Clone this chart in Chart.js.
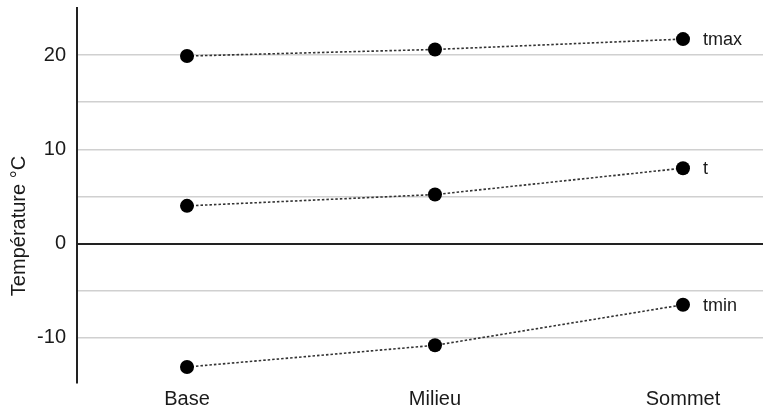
<!DOCTYPE html>
<html>
<head>
<meta charset="utf-8">
<script src="https://cdn.jsdelivr.net/npm/chart.js@4/dist/chart.umd.min.js"></script>
<style>
  html, body { margin: 0; padding: 0; background: #fff; }
  #wrap { width: 763px; height: 412px; }
</style>
</head>
<body>
<div id="wrap"><canvas id="c" width="763" height="412"></canvas></div>
<script>
// Station positions along the slope
const categories = ['Base', 'Milieu', 'Sommet'];

// Temperatures (°C) at each station
const tmax = [19.9, 20.6, 21.7];
const t    = [4.0, 5.2, 8.0];
const tmin = [-13.1, -10.8, -6.5];

const seriesNames = ['tmax', 't', 'tmin'];
const yTickLabels = [-10, 0, 10, 20];
const yAxisTitle = 'Température °C';

const FONT = '"Liberation Sans", Arial, Helvetica, sans-serif';
const TEXT = '#1a1a1a';

function toPoints(values) {
  return values.map((v, i) => ({ x: i + 1, y: v }));
}

function makeSeries(name, values) {
  return {
    label: name,
    data: toPoints(values),
    borderColor: '#333',
    borderWidth: 1.6,
    borderDash: [2.5, 2],
    pointRadius: 7,
    pointHoverRadius: 7,
    pointBackgroundColor: '#000',
    pointBorderColor: '#000',
    pointBorderWidth: 0,
    fill: false,
    tension: 0
  };
}

// Writes each series name to the right of its last point, and the y-axis title
const sideLabels = {
  id: 'sideLabels',
  afterDatasetsDraw(chart) {
    const ctx = chart.ctx;
    ctx.save();
    ctx.font = '18px ' + FONT;
    ctx.fillStyle = TEXT;
    ctx.textAlign = 'left';
    ctx.textBaseline = 'middle';
    chart.data.datasets.forEach((ds, i) => {
      const meta = chart.getDatasetMeta(i);
      const last = meta.data[meta.data.length - 1];
      ctx.fillText(ds.label, last.x + 20, last.y + 1);
    });
    ctx.font = '20px ' + FONT;
    ctx.translate(19, 226);
    ctx.rotate(-Math.PI / 2);
    ctx.textAlign = 'center';
    ctx.fillText(yAxisTitle, 0, 0);
    ctx.restore();
  }
};

new Chart(document.getElementById('c'), {
  type: 'line',
  data: {
    datasets: [
      makeSeries(seriesNames[0], tmax),
      makeSeries(seriesNames[1], t),
      makeSeries(seriesNames[2], tmin)
    ]
  },
  options: {
    responsive: false,
    animation: false,
    layout: { autoPadding: false, padding: { top: 8, right: 0, bottom: 0, left: 0 } },
    plugins: {
      legend: { display: false },
      tooltip: { enabled: false }
    },
    scales: {
      x: {
        type: 'linear',
        min: 0.5565,
        max: 3.3226,
        afterBuildTicks(scale) {
          scale.ticks = categories.map((_, i) => ({ value: i + 1 }));
        },
        afterFit(scale) {
          scale.height = 29;
          scale.paddingLeft = 0;
          scale.paddingRight = 0;
        },
        grid: { display: false, drawTicks: false },
        border: { display: false },
        ticks: {
          padding: 4,
          color: TEXT,
          font: { family: FONT, size: 20 },
          autoSkip: false,
          maxRotation: 0,
          callback: (v) => categories[v - 1] ?? ''
        }
      },
      y: {
        min: -14.8,
        max: 25,
        afterBuildTicks(scale) {
          const ticks = [];
          for (let v = -10; v <= 20; v += 5) ticks.push({ value: v });
          scale.ticks = ticks;
        },
        afterFit(scale) {
          scale.width = 77;
          scale.paddingTop = 0;
          scale.paddingBottom = 0;
        },
        grid: {
          drawTicks: false,
          color: (c) => (c.tick && c.tick.value === 0 ? '#222' : '#d0d0d0'),
          lineWidth: (c) => (c.tick && c.tick.value === 0 ? 2 : 1.5)
        },
        border: { display: true, color: '#222', width: 2 },
        ticks: {
          padding: 11,
          color: TEXT,
          font: { family: FONT, size: 20 },
          callback: (v) => (yTickLabels.includes(v) ? String(v) : '')
        }
      }
    }
  },
  plugins: [sideLabels]
});
</script>
</body>
</html>
